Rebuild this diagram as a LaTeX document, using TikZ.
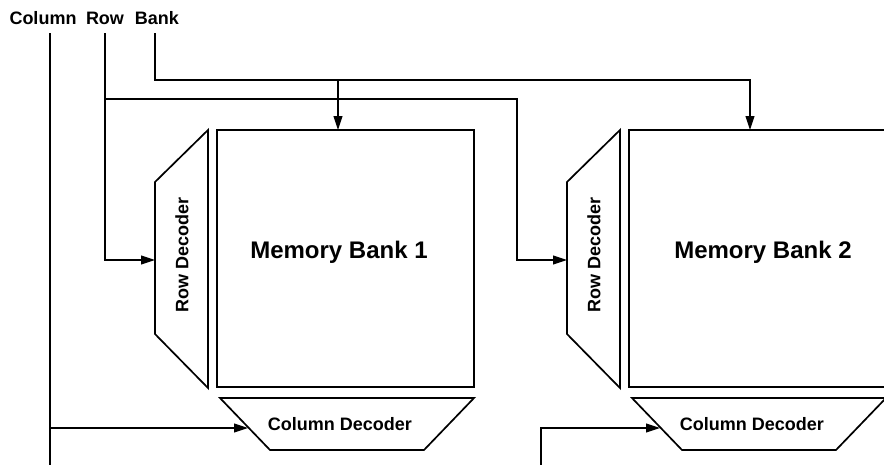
\documentclass[tikz,border=0pt]{standalone}
\usepackage{fontspec}
\setmainfont{Liberation Sans}
\usetikzlibrary{arrows.meta}
\begin{document}
\begin{tikzpicture}[x=1pt,y=-1pt,
  box/.style={draw, line width=1.7pt},
  wire/.style={line width=1.1pt},
  arr/.style={wire, -{Triangle[length=14pt,width=9pt]}},
  lbl/.style={font=\fontsize{18}{20}\selectfont\bfseries, inner sep=0pt},
  big/.style={font=\fontsize{24}{26}\selectfont\bfseries, inner sep=0pt}]
\clip (0,0) rectangle (884,464);
\fill[white] (0,0) rectangle (884,464);

% memory banks
\draw[box] (217,130) rectangle (474,387);
\node[big] (b1) at (339,252) {Memory Bank 1};
\draw[box] (629,130) rectangle (890,387);
\node[big] (b2) at (763,252) {Memory Bank 2};

% row decoders
\draw[box] (208,130) -- (208,388) -- (155,334) -- (155,182) -- cycle;
\node[lbl, rotate=90] (rd1) at (182,255) {Row Decoder};
\draw[box] (620,130) -- (620,388) -- (567,334) -- (567,182) -- cycle;
\node[lbl, rotate=90] (rd2) at (594,255) {Row Decoder};

% column decoders
\draw[box] (220,398) -- (474,398) -- (424,450) -- (270,450) -- cycle;
\node[lbl] (cd1) at (340,424) {Column Decoder};
\draw[box] (632,398) -- (886,398) -- (836,450) -- (682,450) -- cycle;
\node[lbl] (cd2) at (752,424) {Column Decoder};

% labels
\node[lbl] (lcol) at (43,18) {Column};
\node[lbl] (lrow) at (105,18) {Row};
\node[lbl] (lbank) at (157,18) {Bank};

% connection points
\coordinate (colTop) at (50,33);
\coordinate (colBot) at (50,470);
\coordinate (rowTop) at (105,33);
\coordinate (bankTop) at (155,33);
\coordinate (rd1in) at (155,260);
\coordinate (rd2in) at (567,260);
\coordinate (cd1in) at (248,428);
\coordinate (cd2in) at (660,428);
\coordinate (b1top) at (338,130);
\coordinate (b2top) at (750,130);
\coordinate (rowJ) at (105,99);
\coordinate (rowK) at (517,99);
\coordinate (bankJ) at (338,80);
\coordinate (cd2src) at (541,470);

% wires
\draw[wire] (colTop) -- (colBot);
\draw[arr] (colTop) |- (cd1in);
\draw[arr] (rowTop) |- (rd1in);
\draw[arr] (rowJ) -- (rowK) |- (rd2in);
\draw[arr] (bankTop) |- (750,80) -- (b2top);
\draw[arr] (bankJ) -- (b1top);
\draw[arr] (cd2src) |- (cd2in);
\end{tikzpicture}
\end{document}
